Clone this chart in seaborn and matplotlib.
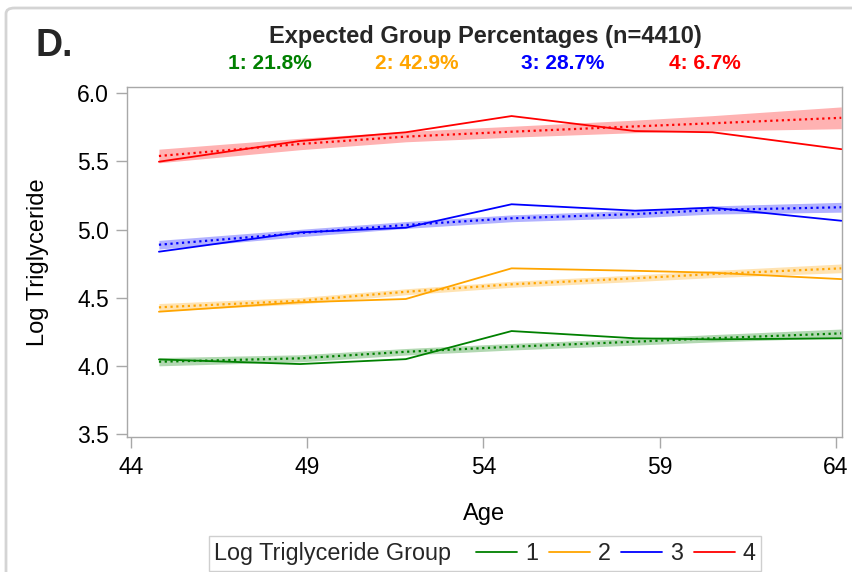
import numpy as np
import pandas as pd
import matplotlib
matplotlib.use("Agg")
import matplotlib.pyplot as plt
from matplotlib.lines import Line2D
from matplotlib.patches import FancyBboxPatch
from matplotlib.offsetbox import HPacker
import seaborn as sns

# Mean age at each exam
ages = [44.8, 48.8, 51.8, 54.8, 58.3, 60.5, 64.15]

groups = ["1", "2", "3", "4"]
group_pct = ["21.8%", "42.9%", "28.7%", "6.7%"]
colors = {"1": "#008000", "2": "#FFA500", "3": "#0000FF", "4": "#FF0000"}

# Observed mean log triglyceride per group
obs_1 = [4.048, 4.014, 4.050, 4.256, 4.203, 4.195, 4.203]
obs_2 = [4.398, 4.467, 4.491, 4.716, 4.698, 4.684, 4.637]
obs_3 = [4.838, 4.980, 5.014, 5.186, 5.139, 5.161, 5.065]
obs_4 = [5.498, 5.650, 5.714, 5.833, 5.723, 5.714, 5.590]

# Model-estimated trajectories
fit_1 = [4.031, 4.056, 4.104, 4.141, 4.178, 4.203, 4.239]
fit_2 = [4.430, 4.478, 4.544, 4.599, 4.643, 4.674, 4.716]
fit_3 = [4.889, 4.975, 5.034, 5.083, 5.114, 5.144, 5.164]
fit_4 = [5.540, 5.628, 5.682, 5.718, 5.757, 5.780, 5.820]

# Half-width of the confidence band
ci_1 = [0.030, 0.026, 0.024, 0.024, 0.025, 0.027, 0.032]
ci_2 = [0.028, 0.024, 0.022, 0.022, 0.024, 0.026, 0.032]
ci_3 = [0.032, 0.027, 0.025, 0.025, 0.027, 0.030, 0.036]
ci_4 = [0.050, 0.042, 0.038, 0.040, 0.046, 0.056, 0.080]

obs = {"1": obs_1, "2": obs_2, "3": obs_3, "4": obs_4}
fit = {"1": fit_1, "2": fit_2, "3": fit_3, "4": fit_4}
ci = {"1": ci_1, "2": ci_2, "3": ci_3, "4": ci_4}

rows = []
for g in groups:
    for a, o, f, c in zip(ages, obs[g], fit[g], ci[g]):
        rows.append({"Age": a, "Group": g, "Observed": o, "Fitted": f,
                     "Lower": f - c, "Upper": f + c})
df = pd.DataFrame(rows)

sns.set_theme(style="white")
plt.rcParams["font.family"] = ["Liberation Sans", "DejaVu Sans"]

fig = plt.figure(figsize=(8.52, 5.72), dpi=100)
ax = fig.add_axes([127 / 852, 1 - 437 / 572, (842 - 127) / 852, (437 - 87) / 572])

# Confidence bands
for g in groups:
    d = df[df["Group"] == g]
    ax.fill_between(d["Age"], d["Lower"], d["Upper"], color=colors[g],
                    alpha=0.3, linewidth=0, zorder=1)

# Fitted trajectories (dotted)
sns.lineplot(data=df, x="Age", y="Fitted", hue="Group", palette=colors,
             linestyle=(0, (1.0, 1.6)), linewidth=1.6, legend=False,
             ax=ax, zorder=2)

# Observed means (solid)
sns.lineplot(data=df, x="Age", y="Observed", hue="Group", palette=colors,
             linewidth=1.3, legend=False, ax=ax, zorder=3)

ax.set_xlim(43.895, 64.17)
ax.set_ylim(3.479, 6.046)
ax.set_xticks([44, 49, 54, 59, 64])
ax.set_yticks([3.5, 4.0, 4.5, 5.0, 5.5, 6.0])
ax.set_yticklabels(["3.5", "4.0", "4.5", "5.0", "5.5", "6.0"])

spine_c = "#a8a8a8"
for s in ax.spines.values():
    s.set_color(spine_c)
    s.set_linewidth(1.0)
ax.tick_params(axis="both", which="major", direction="out", length=8,
               width=1.0, color=spine_c, labelsize=16.5, labelcolor="black",
               pad=5, left=True, bottom=True)
ax.tick_params(axis="x", pad=6)

ax.set_xlabel("Age", fontsize=17, labelpad=17, color="black")
ax.set_ylabel("Log Triglyceride", fontsize=17, labelpad=20, color="black")

# Panel letter and header
fig.text(36 / 852, 1 - 56 / 572, "D.", fontsize=27, fontweight="bold",
         ha="left", va="baseline")
fig.text(485 / 852, 1 - 43 / 572, "Expected Group Percentages (n=4410)",
         fontsize=17, fontweight="bold", ha="center", va="baseline")
sub_x = [270, 417, 563, 705]
for g, p, xpx in zip(groups, group_pct, sub_x):
    fig.text(xpx / 852, 1 - 69 / 572, f"{g}: {p}", fontsize=15,
             fontweight="bold", color=colors[g], ha="center", va="baseline")

# Legend with the title placed inline
handles = [Line2D([], [], color=colors[g], linewidth=1.3) for g in groups]
leg = fig.legend(handles, groups, ncol=4, title="Log Triglyceride Group",
                 loc="lower center", bbox_to_anchor=(485 / 852, 1 / 572),
                 fontsize=16.8, title_fontsize=16.8, frameon=True,
                 fancybox=False, edgecolor="#cfcfcf", framealpha=1,
                 handlelength=1.75, handletextpad=0.35, columnspacing=0.45,
                 borderpad=0.25, borderaxespad=0)
leg.get_frame().set_linewidth(1.0)
title_box = leg._legend_title_box
handle_box = leg._legend_handle_box
row = HPacker(pad=0, sep=18, align="center", children=[title_box, handle_box])
row.set_figure(fig)
leg._legend_box._children = [row]

# Panel border
fig.patches.append(FancyBboxPatch((6 / 852, -0.05), 1.1, 1 - 8 / 572 + 0.05,
                                  boxstyle="round,pad=0,rounding_size=0.01",
                                  transform=fig.transFigure, facecolor="none",
                                  edgecolor="#d4d4d4", linewidth=2.0,
                                  figure=fig))

fig.savefig("out.png", dpi=100)
